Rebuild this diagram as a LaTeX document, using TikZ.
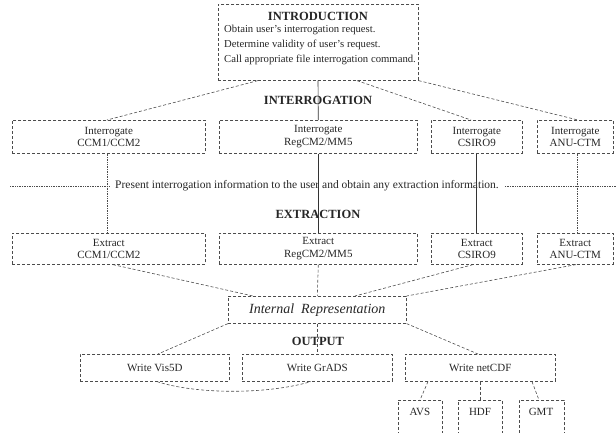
\documentclass[tikz,border=0pt]{standalone}
\usepackage{fontspec}
\setmainfont{Liberation Serif}
\usetikzlibrary{calc}
\begin{document}
\begin{tikzpicture}[x=1pt,y=-1pt,
  box/.style={draw=black!70, densely dashed, line width=0.6pt, anchor=north west, inner sep=0pt, align=center, font=\fontsize{11}{12.5}\selectfont, text=black!85},
  txt/.style={font=\fontsize{11.5}{14}\selectfont, text=black!85, inner sep=0pt},
  itxt/.style={font=\fontsize{10.7}{14}\selectfont, text=black!85, inner sep=0pt, anchor=west},
  head/.style={font=\fontsize{12.5}{14}\selectfont\bfseries, text=black!85, inner sep=0pt},
  dl/.style={draw=black!70, densely dashed, line width=0.6pt},
  dt/.style={draw=black!70, densely dotted, line width=0.7pt},
  sl/.style={draw=black!80, line width=0.6pt},
]
\useasboundingbox (0,0) rectangle (616,432);
% introduction
\node[box, minimum width=200pt, minimum height=76pt] (intro) at (218,4) {};
\node[head] (hintro) at (318,16) {INTRODUCTION};
\node[itxt] (l1) at (224,30) {Obtain user's interrogation request.};
\node[itxt] (l2) at (224,45) {Determine validity of user's request.};
\node[itxt] (l3) at (224,60) {Call appropriate file interrogation command.};
% headings
\node[head] (hinter) at (318,100) {INTERROGATION};
\node[head] (hextr) at (318,214) {EXTRACTION};
\node[head] (hout) at (318,341) {OUTPUT};
% interrogate row
\node[box, minimum width=193pt, minimum height=33pt] (ic) at (12,120) {Interrogate\\CCM1/CCM2};
\node[box, minimum width=198pt, minimum height=33pt] (ir) at (219,120) {Interrogate\\RegCM2/MM5};
\node[box, minimum width=91pt, minimum height=33pt] (is) at (431,120) {Interrogate\\CSIRO9};
\node[box, minimum width=76pt, minimum height=33pt] (ia) at (537,120) {Interrogate\\ANU-CTM};
% present line
\node[txt] (pres) at (307,186) {Present interrogation information to the user and obtain any extraction information.};
\coordinate (pl) at (10,186);
\coordinate (pr) at (616,186);
\draw[dt] (pl) -- ($(pres.west)+(-6,0)$);
\draw[dt] ($(pres.east)+(6,0)$) -- (pr);
% extract row
\node[box, minimum width=193pt, minimum height=31pt] (ec) at (12,233) {Extract\\CCM1/CCM2};
\node[box, minimum width=198pt, minimum height=31pt] (er) at (219,233) {Extract\\RegCM2/MM5};
\node[box, minimum width=91pt, minimum height=31pt] (es) at (431,233) {Extract\\CSIRO9};
\node[box, minimum width=76pt, minimum height=31pt] (ea) at (537,233) {Extract\\ANU-CTM};
% internal representation
\node[box, minimum width=178pt, minimum height=27pt, font=\fontsize{14}{15}\selectfont\itshape] (rep) at (228,296) {Internal\ \ Representation};
% writes
\node[box, minimum width=149pt, minimum height=27pt] (wv) at (80,354) {Write Vis5D};
\node[box, minimum width=150pt, minimum height=27pt] (wg) at (242,354) {Write GrADS};
\node[box, minimum width=150pt, minimum height=27pt] (wn) at (405,354) {Write netCDF};
% formats
\node[box, minimum width=44pt, minimum height=40pt] (avs) at (398,400) {};
\node[box, minimum width=44pt, minimum height=40pt] (hdf) at (458,400) {};
\node[box, minimum width=45pt, minimum height=40pt] (gmt) at (519,400) {};
\node[txt, font=\fontsize{11}{13}\selectfont] (avsl) at (420,412) {AVS};
\node[txt, font=\fontsize{11}{13}\selectfont] (hdfl) at (480,412) {HDF};
\node[txt, font=\fontsize{11}{13}\selectfont] (gmtl) at (541,412) {GMT};
% connectors intro -> interrogate
\draw[dl] ($(intro.south west)+(40,0)$) -- ($(ic.north west)+(95,0)$);
\draw[sl] ($(intro.south west)+(100,0)$) -- (ir.north);
\draw[dl] ($(intro.south west)+(139,0)$) -- ($(is.north west)+(40,0)$);
\draw[dl] (intro.south east) -- ($(ia.north west)+(41,0)$);
% interrogate -> extract
\draw[dt] ($(ic.south west)+(95,0)$) -- ($(ec.north west)+(95,0)$);
\draw[sl] (ir.south) -- (er.north);
\draw[sl] ($(is.south west)+(45,0)$) -- ($(es.north west)+(45,0)$);
\draw[dt] ($(ia.south west)+(40,0)$) -- ($(ea.north west)+(40,0)$);
% extract -> internal representation
\draw[dl] ($(ec.south west)+(101,0)$) -- ($(rep.north west)+(25,0)$);
\draw[dl] (er.south) -- (rep.north);
\draw[dl] ($(es.south west)+(42,0)$) -- ($(rep.north west)+(127,0)$);
\draw[dl] ($(ea.south west)+(39,0)$) -- (rep.north east);
% internal representation -> writes
\draw[dl] (rep.south west) -- ($(wv.north west)+(78,0)$);
\draw[dl] (rep.south) -- (wg.north);
\draw[dl] (rep.south east) -- ($(wn.north west)+(73,0)$);
\draw[dl] ($(wv.south west)+(77,0)$) .. controls (195,394) and (265,395) .. ($(wg.south west)+(69,0)$);
% netCDF -> formats
\draw[dl] ($(wn.south west)+(23,0)$) -- ($(avs.north west)+(22,0)$);
\draw[dl] ($(wn.south west)+(75,0)$) -- ($(hdf.north west)+(22,0)$);
\draw[dl] ($(wn.south west)+(127,0)$) -- ($(gmt.north west)+(20,0)$);
\end{tikzpicture}
\end{document}
